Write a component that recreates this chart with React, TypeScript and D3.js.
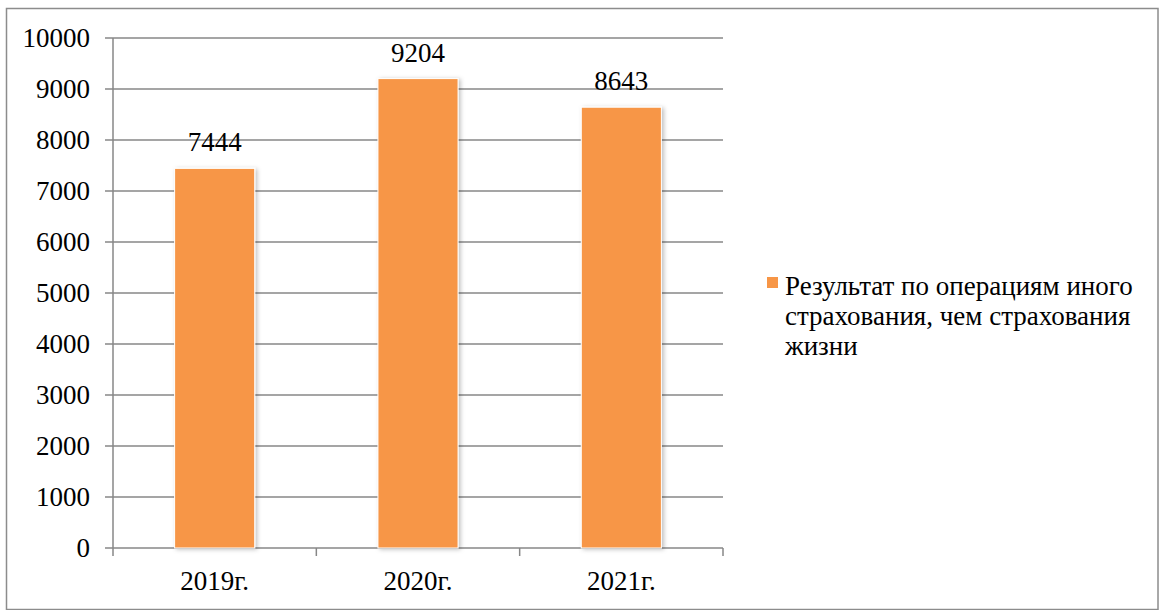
import React from 'react';
import * as d3 from 'd3';

const categories = ['2019г.', '2020г.', '2021г.'];
const values = [7444, 9204, 8643];
const yTicks = [0, 1000, 2000, 3000, 4000, 5000, 6000, 7000, 8000, 9000, 10000];
const legendLines = ['Результат по операциям иного', 'страхования, чем страхования', 'жизни'];

const FONT = '"Liberation Serif"';
const GRID = '#878787';
const ORANGE = '#F79646';

const left = 113, right = 723, top = 38, bottom = 548;

const x = d3.scaleBand<string>()
  .domain(categories)
  .range([left, right])
  .paddingInner(0.606)
  .paddingOuter(0.303);

const y = d3.scaleLinear().domain([0, 10000]).range([bottom, top]);

const App = () => {
  // category boundaries for x tick marks
  const bounds = [left, ...categories.map(c => (x(c) as number) + x.bandwidth() / 2 + x.step() / 2)];
  const txt = { fontFamily: FONT, fontSize: '27px' };

  return (
    <svg width={1160} height={610} style={{ position: 'absolute', left: 0, top: 0, background: '#fff' }}>
      <defs>
        <filter id="shadow" x="-20%" y="-20%" width="140%" height="140%">
          <feDropShadow dx={2} dy={1} stdDeviation={2} floodColor="#000" floodOpacity={0.25} />
        </filter>
      </defs>

      {/* outer border */}
      <rect x={6.5} y={8.5} width={1151.5} height={601} fill="#fff" stroke="#8c8c8c" strokeWidth={1.5} />

      {/* gridlines */}
      {yTicks.map(t => (
        <line key={'g' + t} x1={left - 8} x2={right} y1={y(t)} y2={y(t)} stroke={GRID} strokeWidth={1.5} />
      ))}
      {yTicks.map(t => (
        <text key={'l' + t} x={90} y={y(t)} dy="0.34em" textAnchor="end" fill="#000" style={txt}>{t}</text>
      ))}

      <line x1={left} x2={left} y1={top} y2={bottom} stroke={GRID} strokeWidth={1.5} />
      {bounds.map((b, i) => (
        <line key={'xt' + i} x1={b} x2={b} y1={bottom} y2={bottom + 8} stroke={GRID} strokeWidth={1.5} />
      ))}

      {/* bars */}
      {values.map((v, i) => (
        <rect key={'b' + i} x={x(categories[i])} y={y(v)} width={x.bandwidth()} height={bottom - y(v)}
          fill={ORANGE} stroke="#fff" strokeWidth={1} filter="url(#shadow)" />
      ))}

      {/* value labels */}
      {values.map((v, i) => (
        <text key={'v' + i} x={(x(categories[i]) as number) + x.bandwidth() / 2} y={y(v) - 17}
          textAnchor="middle" fill="#000" style={txt}>{v}</text>
      ))}

      {/* category labels */}
      {categories.map(c => (
        <text key={c} x={(x(c) as number) + x.bandwidth() / 2} y={590} textAnchor="middle" fill="#000" style={txt}>{c}</text>
      ))}

      {/* legend */}
      <rect x={767} y={277} width={11} height={11} fill={ORANGE} />
      {legendLines.map((l, i) => (
        <text key={'lg' + i} x={785} y={295 + i * 30} fill="#000" style={txt}>{l}</text>
      ))}
    </svg>
  );
};

export default App;
